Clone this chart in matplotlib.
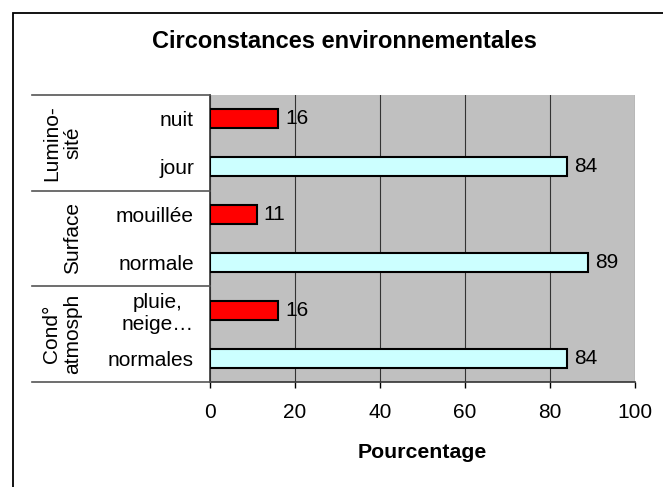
import matplotlib
matplotlib.use("Agg")
import matplotlib.pyplot as plt
from matplotlib.patches import Rectangle

plt.rcParams['font.family'] = ['Liberation Sans', 'DejaVu Sans']

# Data (bottom to top)
categories = ["normales", "pluie,\nneige…", "normale", "mouillée", "jour", "nuit"]
values = [84, 16, 89, 11, 84, 16]
colors = ["#CCFFFF", "#FF0000", "#CCFFFF", "#FF0000", "#CCFFFF", "#FF0000"]
groups = ["Cond°\natmosph", "Surface", "Lumino-\nsité"]
xticks = [0, 20, 40, 60, 80, 100]
title = "Circonstances environnementales"
xlabel = "Pourcentage"

W, H = 663, 487
fig = plt.figure(figsize=(W / 100, H / 100), dpi=100)
fig.patch.set_facecolor("white")

FS = 15

# outer frame (only left/top visible in the reference)
fig.patches.append(Rectangle((12.5 / W, -0.1), 1.2, 1 - 12.5 / H + 0.1,
                             transform=fig.transFigure, fill=False,
                             edgecolor="black", linewidth=1.3))

L, R, T, B = 210, 635, 95, 382
ax = fig.add_axes([L / W, 1 - B / H, (R - L) / W, (B - T) / H])
ax.set_facecolor("#C0C0C0")

ypos = list(range(len(categories)))
bars = ax.barh(ypos, values, height=0.4, color=colors, edgecolor="black",
               linewidth=1.5, zorder=3)
ax.bar_label(bars, labels=[str(v) for v in values], padding=5, fontsize=FS)

ax.set_xlim(0, 100)
ax.set_ylim(-0.5, len(categories) - 0.5)
ax.set_xticks(xticks)
ax.set_xticklabels([str(t) for t in xticks], fontsize=FS)
ax.tick_params(axis="x", direction="out", length=4.5, width=1, pad=10.5, colors="black")
ax.set_yticks(ypos)
ax.set_yticklabels(categories, fontsize=FS, multialignment="center")
ax.tick_params(axis="y", length=0, pad=11.5)
ax.xaxis.grid(True, color="#333333", linewidth=0.8, zorder=1)
ax.set_axisbelow(True)
for s in ["top", "right"]:
    ax.spines[s].set_visible(False)
ax.spines["left"].set_color("#333333")
ax.spines["bottom"].set_color("#333333")
ax.spines["left"].set_linewidth(1.2)
ax.spines["bottom"].set_linewidth(1.2)

ax.set_xlabel(xlabel, fontsize=15.3, fontweight="bold", labelpad=15)

# table lines on the left
tr = ax.get_yaxis_transform()
x0 = (32 - L) / (R - L)
for yb in [-0.5, 1.5, 3.5, 5.5]:
    ax.plot([x0, 0], [yb, yb], transform=tr, color="#555555", linewidth=1.2,
            clip_on=False, zorder=5)

# group labels
gx = (82 - L) / (R - L)
for i, g in enumerate(groups):
    ax.text(gx, 2 * i + 0.5, g, transform=tr, rotation=90, ha="right",
            va="center", multialignment="center", fontsize=FS, clip_on=False,
            linespacing=1.15)

fig.text(344 / W, 1 - 42 / H, title, ha="center", va="center",
         fontsize=17, fontweight="bold")

fig.savefig("out.png", dpi=100)
